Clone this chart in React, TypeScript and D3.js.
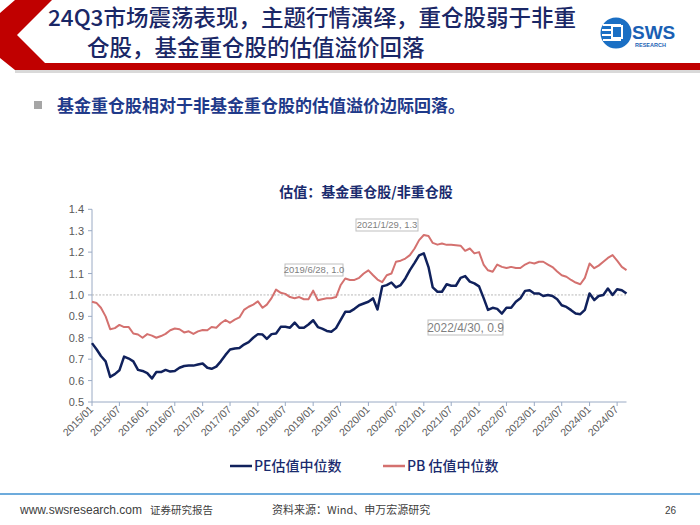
import React from "react";
import * as d3 from "d3";

const peValues = [
  0.775, 0.745, 0.715, 0.69, 0.617, 0.63, 0.648, 0.712, 0.703, 0.69, 0.65, 0.645,
  0.635, 0.61, 0.64, 0.64, 0.65, 0.642, 0.645, 0.66, 0.668, 0.67, 0.67, 0.675,
  0.68, 0.66, 0.655, 0.665, 0.69, 0.72, 0.745, 0.75, 0.752, 0.768, 0.78, 0.8,
  0.817, 0.815, 0.795, 0.817, 0.82, 0.851, 0.851, 0.847, 0.871, 0.847, 0.847, 0.862,
  0.882, 0.85, 0.843, 0.832, 0.828, 0.845, 0.882, 0.921, 0.922, 0.935, 0.952, 0.96,
  0.968, 0.984, 0.932, 1.04, 1.046, 1.058, 1.035, 1.046, 1.077, 1.116, 1.15, 1.185,
  1.194, 1.13, 1.035, 1.015, 1.015, 1.05, 1.043, 1.043, 1.08, 1.088, 1.062, 1.054,
  1.04, 0.984, 0.93, 0.94, 0.935, 0.913, 0.94, 0.94, 0.968, 0.984, 1.019, 1.022,
  1.007, 1.007, 0.995, 1.0, 0.995, 0.98, 0.952, 0.944, 0.929, 0.913, 0.91, 0.93,
  1.007, 0.976, 0.995, 1.0, 1.03, 1.0, 1.027, 1.022, 1.007,
];

const pbValues = [
  0.968, 0.962, 0.94, 0.9, 0.84, 0.845, 0.86, 0.85, 0.85, 0.82, 0.815, 0.8,
  0.817, 0.81, 0.8, 0.808, 0.818, 0.835, 0.843, 0.84, 0.825, 0.83, 0.818, 0.83,
  0.836, 0.835, 0.85, 0.847, 0.868, 0.883, 0.87, 0.885, 0.895, 0.93, 0.945, 0.955,
  0.97, 0.94, 0.955, 0.985, 1.025, 1.01, 1.005, 0.99, 0.985, 0.99, 0.98, 0.98,
  1.02, 0.975, 0.98, 0.985, 0.985, 0.99, 1.045, 1.077, 1.07, 1.07, 1.08, 1.1,
  1.115, 1.092, 1.072, 1.06, 1.092, 1.1, 1.155, 1.16, 1.17, 1.186, 1.217, 1.256,
  1.28, 1.275, 1.243, 1.235, 1.24, 1.234, 1.234, 1.232, 1.23, 1.206, 1.217, 1.194,
  1.2, 1.14, 1.115, 1.108, 1.142, 1.131, 1.126, 1.131, 1.126, 1.126, 1.142, 1.152,
  1.147, 1.155, 1.155, 1.142, 1.13, 1.11, 1.092, 1.085, 1.07, 1.058, 1.05, 1.08,
  1.147, 1.125, 1.137, 1.155, 1.173, 1.186, 1.16, 1.131, 1.116,
];

const months = d3.timeMonth.range(new Date(2015, 0, 1), new Date(2024, 9, 1));

const xTickLabels = [
  "2015/01", "2015/07", "2016/01", "2016/07", "2017/01", "2017/07", "2018/01",
  "2018/07", "2019/01", "2019/07", "2020/01", "2020/07", "2021/01", "2021/07",
  "2022/01", "2022/07", "2023/01", "2023/07", "2024/01", "2024/07",
];
const yTicks = [0.5, 0.6, 0.7, 0.8, 0.9, 1.0, 1.1, 1.2, 1.3, 1.4];

const annotations = [
  { label: "2021/1/29, 1.3", x: 356, y: 219, w: 62, h: 12, fs: 9.5 },
  { label: "2019/6/28, 1.0", x: 285, y: 264, w: 58, h: 12, fs: 9.5 },
  { label: "2022/4/30, 0.9", x: 428, y: 320, w: 75, h: 15, fs: 12 },
];

const legendItems = [
  { label: "PE估值中位数", color: "#10215c", x: 230 },
  { label: "PB 估值中位数", color: "#d4716f", x: 383 },
];

const NAVY = "#10215c";
const PINK = "#d4716f";
const CJK = "'Noto Sans CJK SC', 'Noto Sans', sans-serif";
const LAT = "'Liberation Sans', Arial, sans-serif";

export default function App() {
  const x = d3
    .scaleTime()
    .domain([months[0], months[months.length - 1]])
    .range([92, 626.5]);
  const y = d3.scaleLinear().domain([0.5, 1.4]).range([402, 209.3]);

  const line = d3
    .line<number>()
    .x((_, i) => x(months[i]))
    .y((d) => y(d));

  const tickDates = xTickLabels.map((s) => {
    const [yy, mm] = s.split("/").map(Number);
    return new Date(yy, mm - 1, 1);
  });

  const axisColor = "#9aaac4";

  return (
    <svg
      width={700}
      height={525}
      style={{ position: "absolute", left: 0, top: 0, background: "#fff" }}
    >
      <rect x={0} y={0} width={700} height={525} fill="#fff" />
      {/* header chevron */}
      <polygon
        points="15,0 52,0 17,35 45,63 700,63 700,70 15,70 0,58 0,13"
        fill="#c00000"
      />
      <rect x={15} y={70} width={685} height={3} fill="#d9d9d9" />
      <text x={48} y={26} fontFamily={CJK} fontSize={22.5} fill="#1a2766" fontWeight={500}>
        24Q3市场震荡表现，主题行情演绎，重仓股弱于非重
      </text>
      <text x={87} y={56} fontFamily={CJK} fontSize={22.5} fill="#1a2766" fontWeight={500}>
        仓股，基金重仓股的估值溢价回落
      </text>
      {/* logo */}
      <g>
        <circle cx={616} cy={33} r={15.5} fill="#1a6fc4" />
        <rect x={603} y={24} width={18} height={2} fill="#fff" />
        <rect x={602} y={29} width={19} height={2} fill="#fff" />
        <rect x={602} y={34} width={19} height={2} fill="#fff" />
        <rect x={603} y={39} width={18} height={2} fill="#fff" />
        <rect x={611} y={25} width={12} height={14} fill="#fff" />
        <rect x={613} y={27} width={8} height={10} fill="#1a6fc4" />
        <text x={632} y={39} fontFamily={LAT} fontWeight="bold" fontSize={19} fill="#1a5fb4">
          SWS
        </text>
        <text x={635} y={47} fontFamily={LAT} fontWeight="bold" fontSize={5.5} fill="#1a5fb4">
          RESEARCH
        </text>
      </g>
      {/* bullet */}
      <rect x={34} y={101} width={8} height={8} fill="#a6a6a6" />
      <text x={57} y={112} fontFamily={CJK} fontSize={17} fontWeight="bold" fill="#1f3a8a">
        基金重仓股相对于非基金重仓股的估值溢价边际回落。
      </text>
      {/* chart title */}
      <text
        x={366}
        y={197}
        textAnchor="middle"
        fontFamily={CJK}
        fontSize={14}
        fontWeight="bold"
        fill="#1a2b6e"
      >
        估值：基金重仓股/非重仓股
      </text>
      {/* y axis */}
      <line x1={92} x2={92} y1={y(1.4)} y2={y(0.5)} stroke={axisColor} />
      {yTicks.map((t) => (
        <g key={t}>
          <line x1={88} x2={92} y1={y(t)} y2={y(t)} stroke={axisColor} />
          <text
            x={84}
            y={y(t) + 4}
            textAnchor="end"
            fontFamily={LAT}
            fontSize={11}
            fill="#595959"
          >
            {t.toFixed(1)}
          </text>
        </g>
      ))}
      {/* x axis */}
      <line x1={92} x2={626.5} y1={y(0.5)} y2={y(0.5)} stroke={axisColor} />
      {tickDates.map((d, i) => (
        <g key={i}>
          <line x1={x(d)} x2={x(d)} y1={y(0.5)} y2={y(0.5) + 4} stroke={axisColor} />
          <text
            transform={`translate(${x(d) + 2},${y(0.5) + 8}) rotate(-45)`}
            textAnchor="end"
            fontFamily={LAT}
            fontSize={10.5}
            fill="#595959"
          >
            {xTickLabels[i]}
          </text>
        </g>
      ))}
      {/* 1.0 reference */}
      <line
        x1={92}
        x2={626.5}
        y1={y(1.0)}
        y2={y(1.0)}
        stroke="#b8b8b8"
        strokeDasharray="2,1.5"
        strokeWidth={1}
      />
      <path d={line(pbValues) || ""} fill="none" stroke={PINK} strokeWidth={2} strokeLinejoin="round" />
      <path d={line(peValues) || ""} fill="none" stroke={NAVY} strokeWidth={2.5} strokeLinejoin="round" />
      {/* annotations */}
      {annotations.map((a) => (
        <g key={a.label}>
          <rect x={a.x} y={a.y} width={a.w} height={a.h} fill="#fff" stroke="#bfbfbf" strokeWidth={1} />
          <text
            x={a.x + a.w / 2}
            y={a.y + a.h / 2 + a.fs * 0.36}
            textAnchor="middle"
            fontFamily={LAT}
            fontSize={a.fs}
            fill="#7f7f7f"
          >
            {a.label}
          </text>
        </g>
      ))}
      {/* legend */}
      {legendItems.map((l) => (
        <g key={l.label}>
          <line x1={l.x} x2={l.x + 22} y1={466} y2={466} stroke={l.color} strokeWidth={2.5} />
          <text x={l.x + 24} y={471} fontFamily={CJK} fontSize={14} fill="#1a2b6e" fontWeight={500}>
            {l.label}
          </text>
        </g>
      ))}
      {/* footer */}
      <line x1={0} x2={700} y1={494} y2={494} stroke="#3c8fd0" strokeWidth={1.5} />
      <text x={20} y={514} fontFamily={LAT} fontSize={12} fill="#404040">
        www.swsresearch.com
      </text>
      <text x={150} y={514} fontFamily={CJK} fontSize={10.5} fill="#404040">
        证券研究报告
      </text>
      <text x={272} y={514} fontFamily={CJK} fontSize={11} fill="#404040">
        资料来源：Wind、申万宏源研究
      </text>
      <text x={665} y={514} fontFamily={LAT} fontSize={10} fill="#404040">
        26
      </text>
    </svg>
  );
}
